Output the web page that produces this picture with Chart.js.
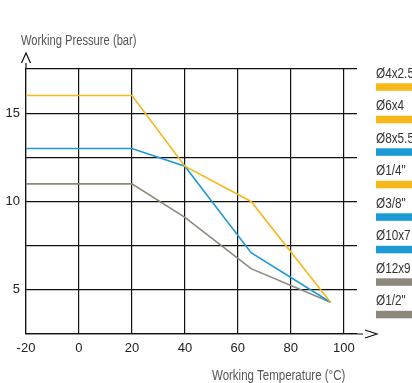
<!DOCTYPE html>
<html>
<head>
<meta charset="utf-8">
<script src="https://cdn.jsdelivr.net/npm/chart.js@4/dist/chart.umd.min.js"></script>
<style>
  body { margin: 0; background: #fff; }
  #wrap { width: 412px; height: 383px; position: relative; }
</style>
</head>
<body>
<div id="wrap"><canvas id="pressureChart"></canvas></div>
<script>
// temperature (°C) break points, shared by all three curves
const temps = [-20, 20, 40, 65, 95];
const yellowBar = [16, 16, 12, 10, 4.3];
const blueBar = [13, 13, 12, 7.1, 4.3];
const grayBar = [11, 11, 9.1, 6.2, 4.3];

const xTicks = [-20, 0, 20, 40, 60, 80, 100];
const yTicks = [2.5, 5, 7.5, 10, 12.5, 15, 17.5];

const seriesColors = ["#F6B81A", "#1B9AD6", "#8E877B"];

const legendLabels = ["Ø4x2.5", "Ø6x4", "Ø8x5.5", "Ø1/4\"", "Ø3/8\"", "Ø10x7", "Ø12x9", "Ø1/2\""];
const legendSeries = [0, 0, 1, 0, 1, 1, 2, 2];

const yTitle = "Working Pressure (bar)";
const xTitle = "Working Temperature (°C)";

const FONT = "'Liberation Sans', Arial, sans-serif";

const toPoints = (vals) => temps.map((t, i) => ({ x: t, y: vals[i] }));

// the original uses a condensed face; squeeze the text horizontally
function narrowText(ctx, text, x, y, squeeze) {
  ctx.save();
  ctx.translate(x, y);
  ctx.scale(squeeze, 1);
  ctx.fillText(text, 0, 0);
  ctx.restore();
}

// axis arrows, titles and the text-over-bar legend
const decorations = {
  id: "decorations",
  afterDraw(chart) {
    const ctx = chart.ctx;
    const area = chart.chartArea;
    ctx.save();
    ctx.strokeStyle = "#111";
    ctx.lineWidth = 1.2;

    // y axis runs a bit past the grid, then an open arrow head
    ctx.beginPath();
    ctx.moveTo(area.left, area.top);
    ctx.lineTo(area.left, area.top - 6);
    ctx.moveTo(area.left - 4.5, area.top - 6);
    ctx.lineTo(area.left, area.top - 16);
    ctx.lineTo(area.left + 4.5, area.top - 6);
    ctx.stroke();

    // x axis the same way
    ctx.beginPath();
    ctx.moveTo(area.right, area.bottom);
    ctx.lineTo(area.right + 6, area.bottom);
    ctx.moveTo(area.right + 8, area.bottom - 4);
    ctx.lineTo(area.right + 20, area.bottom);
    ctx.lineTo(area.right + 8, area.bottom + 4);
    ctx.stroke();

    // titles
    ctx.fillStyle = "#555";
    ctx.font = "14px " + FONT;
    ctx.textBaseline = "alphabetic";
    ctx.textAlign = "left";
    narrowText(ctx, yTitle, area.left - 5, 45, 0.8);
    narrowText(ctx, xTitle, 212, 380, 0.82);

    // legend: label text with a colour bar under it
    ctx.font = "14px " + FONT;
    legendLabels.forEach((label, i) => {
      const top = 83.3 + i * 32.5;
      ctx.fillStyle = "#333";
      narrowText(ctx, label, 376, top - 5.5, 0.84);
      ctx.fillStyle = seriesColors[legendSeries[i]];
      ctx.fillRect(376, top, 40, 7.5);
    });
    ctx.restore();
  },
};

new Chart(document.getElementById("pressureChart"), {
  type: "line",
  data: {
    datasets: [
      { data: toPoints(yellowBar), borderColor: seriesColors[0] },
      { data: toPoints(blueBar), borderColor: seriesColors[1] },
      { data: toPoints(grayBar), borderColor: seriesColors[2] },
    ].map((d) => ({ ...d, borderWidth: 1.6, pointRadius: 0, fill: false, tension: 0 })),
  },
  options: {
    responsive: true,
    maintainAspectRatio: false,
    animation: false,
    layout: { padding: { top: 69, right: 55, left: 0, bottom: 0 } },
    plugins: { legend: { display: false }, tooltip: { enabled: false } },
    scales: {
      x: {
        type: "linear",
        min: -20,
        max: 105,
        afterBuildTicks: (scale) => {
          scale.ticks = xTicks.map((v) => ({ value: v }));
        },
        afterFit: (scale) => {
          scale.height = 49;
        },
        ticks: { padding: 7, color: "#222", font: { size: 13, family: FONT } },
        grid: { color: "#111", lineWidth: 1.2, drawTicks: false },
        border: { display: true, color: "#111", width: 1.2 },
      },
      y: {
        min: 2.5,
        max: 17.5,
        afterBuildTicks: (scale) => {
          scale.ticks = yTicks.map((v) => ({ value: v }));
        },
        afterFit: (scale) => {
          scale.width = 26;
        },
        ticks: {
          padding: 6,
          color: "#222",
          font: { size: 13, family: FONT },
          callback: (v) => (v % 5 === 0 ? v : ""),
        },
        grid: { color: "#111", lineWidth: 1.2, drawTicks: false },
        border: { display: true, color: "#111", width: 1.2 },
      },
    },
  },
  plugins: [decorations],
});
</script>
</body>
</html>
